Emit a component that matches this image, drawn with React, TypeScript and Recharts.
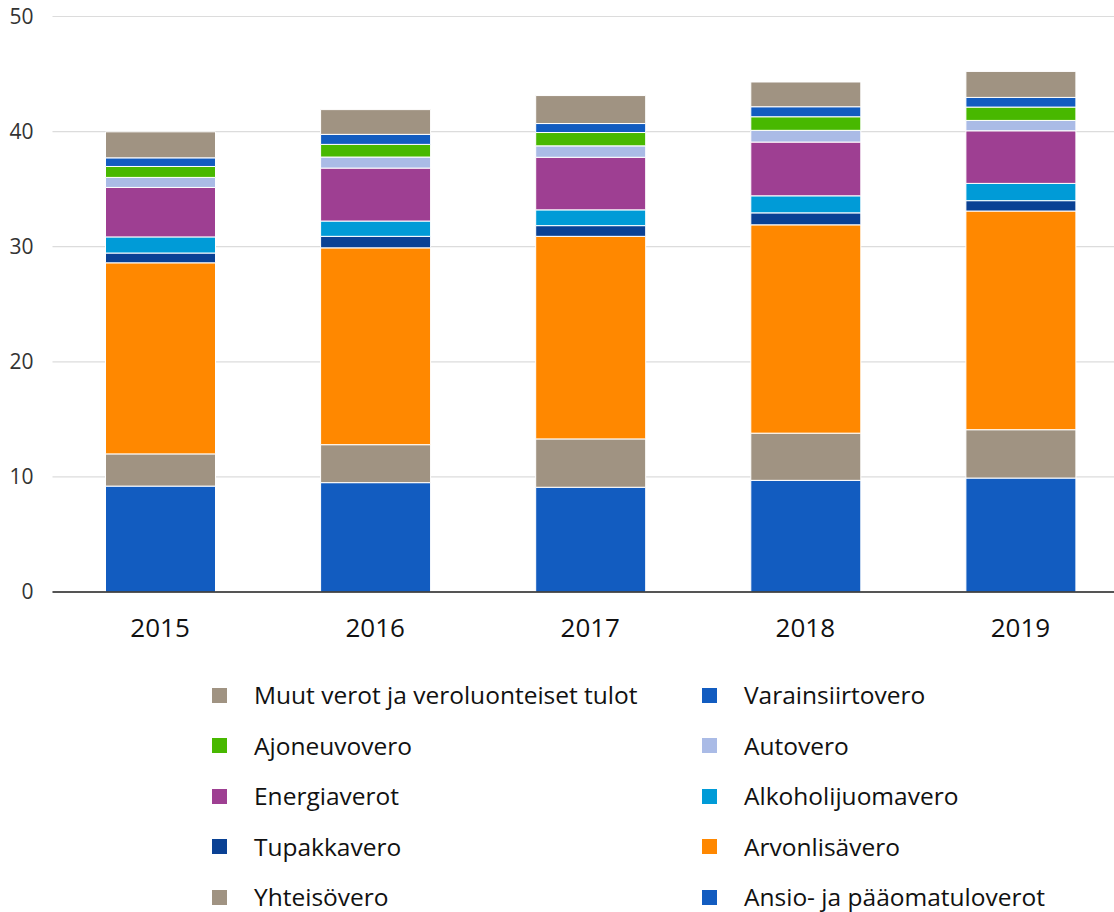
import { BarChart, Bar, XAxis, YAxis, CartesianGrid, Legend } from "recharts";

const YEARS = ["2015", "2016", "2017", "2018", "2019"];

// bottom to top of each stack
const ANSIO = [9.2, 9.5, 9.1, 9.7, 9.9];
const YHTEISO = [2.8, 3.3, 4.2, 4.1, 4.2];
const ARVONLISA = [16.6, 17.1, 17.6, 18.1, 19.0];
const TUPAKKA = [0.85, 1.0, 0.93, 1.04, 0.9];
const ALKOHOLI = [1.4, 1.33, 1.37, 1.48, 1.5];
const ENERGIA = [4.3, 4.6, 4.57, 4.67, 4.57];
const AUTO = [0.87, 0.96, 0.99, 1.02, 0.9];
const AJONEUVO = [0.95, 1.1, 1.16, 1.18, 1.16];
const VARAINSIIRTO = [0.75, 0.87, 0.78, 0.87, 0.84];
const MUUT = [2.26, 2.15, 2.43, 2.15, 2.26];

const Y_TICKS = [0, 10, 20, 30, 40, 50];

const SERIES = [
  { key: "ansio", name: "Ansio- ja pääomatuloverot", values: ANSIO, color: "#125cc0" },
  { key: "yhteiso", name: "Yhteisövero", values: YHTEISO, color: "#a09382" },
  { key: "arvonlisa", name: "Arvonlisävero", values: ARVONLISA, color: "#ff8800" },
  { key: "tupakka", name: "Tupakkavero", values: TUPAKKA, color: "#0a4194" },
  { key: "alkoholi", name: "Alkoholijuomavero", values: ALKOHOLI, color: "#009bd7" },
  { key: "energia", name: "Energiaverot", values: ENERGIA, color: "#9e3f92" },
  { key: "auto", name: "Autovero", values: AUTO, color: "#aabbe6" },
  { key: "ajoneuvo", name: "Ajoneuvovero", values: AJONEUVO, color: "#48b800" },
  { key: "varainsiirto", name: "Varainsiirtovero", values: VARAINSIIRTO, color: "#125cc0" },
  { key: "muut", name: "Muut verot ja veroluonteiset tulot", values: MUUT, color: "#a09382" },
];

const data = YEARS.map((year, i) => {
  const row: Record<string, string | number> = { year };
  SERIES.forEach((s) => {
    row[s.key] = s.values[i];
  });
  return row;
});

const FONT = "'Open Sans', sans-serif";

function LegendGrid() {
  const items = [...SERIES].reverse();
  return (
    <div
      style={{
        display: "grid",
        gridTemplateColumns: "490px 420px",
        paddingLeft: 212,
        fontFamily: FONT,
        fontSize: 24.5,
        color: "#111",
      }}
    >
      {items.map((s) => (
        <div key={s.key} style={{ display: "flex", alignItems: "center", height: 50.5 }}>
          <span style={{ width: 15, height: 15, background: s.color, display: "inline-block" }} />
          <span style={{ marginLeft: 27, whiteSpace: "nowrap", lineHeight: 1 }}>{s.name}</span>
        </div>
      ))}
    </div>
  );
}

export default function App() {
  return (
    <div style={{ width: 1114, height: 912, overflow: "hidden", position: "relative" }}>
      <style>{`body{margin:0;}`}</style>
      <BarChart
        width={1128}
        height={912}
        data={data}
        margin={{ top: 16.5, right: 0, bottom: 260, left: 0 }}
        barSize={110}
      >
        <CartesianGrid vertical={false} stroke="#dcdcdc" strokeWidth={1.2} />
        <XAxis
          dataKey="year"
          axisLine={{ stroke: "#222", strokeWidth: 1.5 }}
          tickLine={false}
          tickSize={0}
          tickMargin={27}
          tick={{ fill: "#111", fontSize: 26, fontFamily: FONT }}
          height={60}
        />
        <YAxis
          domain={[0, 50]}
          ticks={Y_TICKS}
          axisLine={false}
          tickLine={false}
          tickSize={0}
          tickMargin={19}
          width={52.5}
          tick={{ fill: "#333", fontSize: 21, fontFamily: FONT }}
        />
        <Legend
          layout="vertical"
          align="center"
          verticalAlign="middle"
          wrapperStyle={{ top: 670, left: 0, width: 1114 }}
          content={() => <LegendGrid />}
        />
        {SERIES.map((s) => (
          <Bar
            key={s.key}
            dataKey={s.key}
            name={s.name}
            stackId="a"
            fill={s.color}
            stroke="#ffffff"
            strokeWidth={1}
            isAnimationActive={false}
          />
        ))}
      </BarChart>
    </div>
  );
}
